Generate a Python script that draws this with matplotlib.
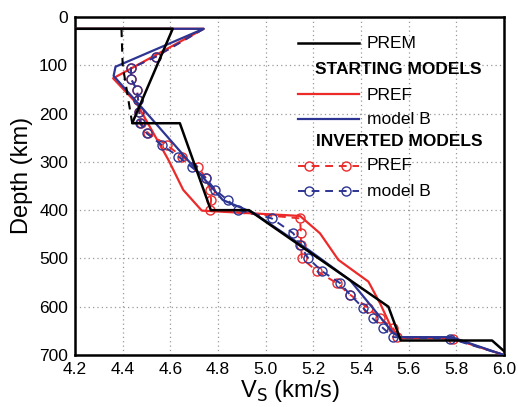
import matplotlib
matplotlib.use("Agg")
import matplotlib.pyplot as plt

# ---------------- data ----------------
prem_vs = [4.10, 4.61, 4.44, 4.64, 4.77, 4.93, 5.515, 5.567, 5.95, 6.03]
prem_depth = [24.4, 24.4, 220, 220, 400, 400, 600, 670, 670, 705]

prem_iso_vs = [4.395, 4.40, 4.44]
prem_iso_depth = [24.4, 100, 220]

pref_vs = [4.10, 4.74, 4.36, 4.459, 4.592, 4.654, 4.732, 5.144, 5.151, 5.228, 5.305,
           5.431, 5.48, 5.529, 5.567, 5.78, 6.0]
pref_depth = [24.4, 24.4, 127, 179, 296, 358, 401, 412, 415, 448, 503,
              548, 593, 645, 665, 665, 700]

modb_vs = [4.10, 4.74, 4.37, 4.362, 4.49, 4.82, 4.95, 5.179, 5.354, 5.536, 5.564, 5.78, 6.0]
modb_depth = [24.4, 24.4, 103, 122, 193, 379, 406, 482, 545, 655, 663, 663, 700]

inv_depth = [24.4, 82, 106, 128, 151, 172, 197, 220, 241, 265, 289, 311, 334, 358, 379,
             400, 417, 448, 472, 500, 526, 551, 575, 603, 624, 645, 663, 666, 700]
inv_pref_vs = [4.74, 4.54, 4.435, 4.435, 4.46, 4.465, 4.47, 4.478, 4.508, 4.585, 4.648,
               4.717, 4.75, 4.767, 4.771, 4.767, 5.144, 5.148, 5.148, 5.152, 5.214,
               5.298, 5.354, 5.431, 5.48, 5.536, 5.55, 5.788, 6.0]
inv_modb_vs = [4.74, 4.54, 4.435, 4.435, 4.46, 4.465, 4.47, 4.473, 4.501, 4.564, 4.634,
               4.69, 4.75, 4.788, 4.84, 4.886, 5.025, 5.116, 5.144, 5.179, 5.235,
               5.312, 5.354, 5.41, 5.449, 5.494, 5.536, 5.774, 6.0]

x_ticks = [4.2, 4.4, 4.6, 4.8, 5.0, 5.2, 5.4, 5.6, 5.8, 6.0]
y_ticks = [0, 100, 200, 300, 400, 500, 600, 700]

RED = "#ec2a2a"
BLUE = "#2d3592"

plt.rcParams['font.family'] = ['Liberation Sans', 'DejaVu Sans']

fig = plt.figure(figsize=(5.18, 4.07), dpi=100)
ax = fig.add_axes([75/518, (407-355)/407, (504-75)/518, (355-17)/407])

ax.plot(prem_vs, prem_depth, color="black", lw=1.8, zorder=5)
ax.plot(prem_iso_vs, prem_iso_depth, color="black", lw=1.5, ls=(0, (4, 3)), zorder=5)
ax.plot(pref_vs, pref_depth, color=RED, lw=1.6, zorder=3)
ax.plot(modb_vs, modb_depth, color=BLUE, lw=1.6, zorder=4)
ax.plot(inv_pref_vs, inv_depth, color=RED, lw=1.4, ls=(0, (4, 3)), marker='o',
        mfc='none', mec=RED, ms=6.5, mew=1.0, markevery=slice(1, -1), zorder=3)
ax.plot(inv_modb_vs, inv_depth, color=BLUE, lw=1.4, ls=(0, (4, 3)), marker='o',
        mfc='none', mec=BLUE, ms=6.5, mew=1.0, markevery=slice(1, -1), zorder=4)

ax.set_xlim(4.2, 6.0)
ax.set_ylim(700, 0)
ax.set_xticks(x_ticks)
ax.set_xticklabels([f"{v:.1f}" for v in x_ticks])
ax.set_yticks(y_ticks)
ax.set_yticklabels([str(v) for v in y_ticks])
ax.tick_params(direction='in', length=0, labelsize=12.5)
ax.tick_params(axis='x', pad=5)
ax.tick_params(axis='y', pad=5)
ax.grid(True, color="#999999", ls=(0, (1, 2.5)), lw=0.9)
for s in ax.spines.values():
    s.set_linewidth(1.8)

ax.set_xlabel(r"V$_\mathrm{S}$ (km/s)", fontsize=17, labelpad=1)
ax.set_ylabel("Depth (km)", fontsize=17)
ax.yaxis.set_label_coords(-0.098, 0.53)

# custom legend (axes coordinates from pixels)
def ax_xy(px, py):
    return (px - 75) / 429.0, (355 - py) / 338.0

def leg_line(py, **kw):
    x0, y0 = ax_xy(298, py)
    x1, _ = ax_xy(359, py)
    ax.plot([x0, x1], [y0, y0], transform=ax.transAxes, clip_on=False, **kw)

def leg_text(px, py, s, **kw):
    x, y = ax_xy(px, py)
    ax.text(x, y, s, transform=ax.transAxes, va='center', fontsize=12.5, **kw)

leg_line(43, color="black", lw=1.8)
leg_text(367, 43, "PREM")
leg_text(398, 70, "STARTING MODELS", ha='center', fontweight='bold')
leg_line(94, color=RED, lw=1.6)
leg_text(367, 95, "PREF")
leg_line(119, color=BLUE, lw=1.6)
leg_text(367, 119, "model B")
leg_text(399, 142, "INVERTED MODELS", ha='center', fontweight='bold')
x0, y0 = ax_xy(298, 166)
x1, _ = ax_xy(359, 166)
ax.plot([x0, (x0 + x1) / 2 - 0.045, (x0 + x1) / 2 + 0.04, x1], [y0] * 4, transform=ax.transAxes,
        clip_on=False, color=RED, lw=1.4, ls=(0, (4, 3)), marker='o', mfc='none',
        mec=RED, ms=6.5, mew=1.0, markevery=[1, 2])
leg_text(367, 166, "PREF")
x0, y0 = ax_xy(298, 191)
ax.plot([x0, (x0 + x1) / 2 - 0.045, (x0 + x1) / 2 + 0.04, x1], [y0] * 4, transform=ax.transAxes,
        clip_on=False, color=BLUE, lw=1.4, ls=(0, (4, 3)), marker='o', mfc='none',
        mec=BLUE, ms=6.5, mew=1.0, markevery=[1, 2])
leg_text(367, 191, "model B")

fig.savefig("out.png", dpi=100)
